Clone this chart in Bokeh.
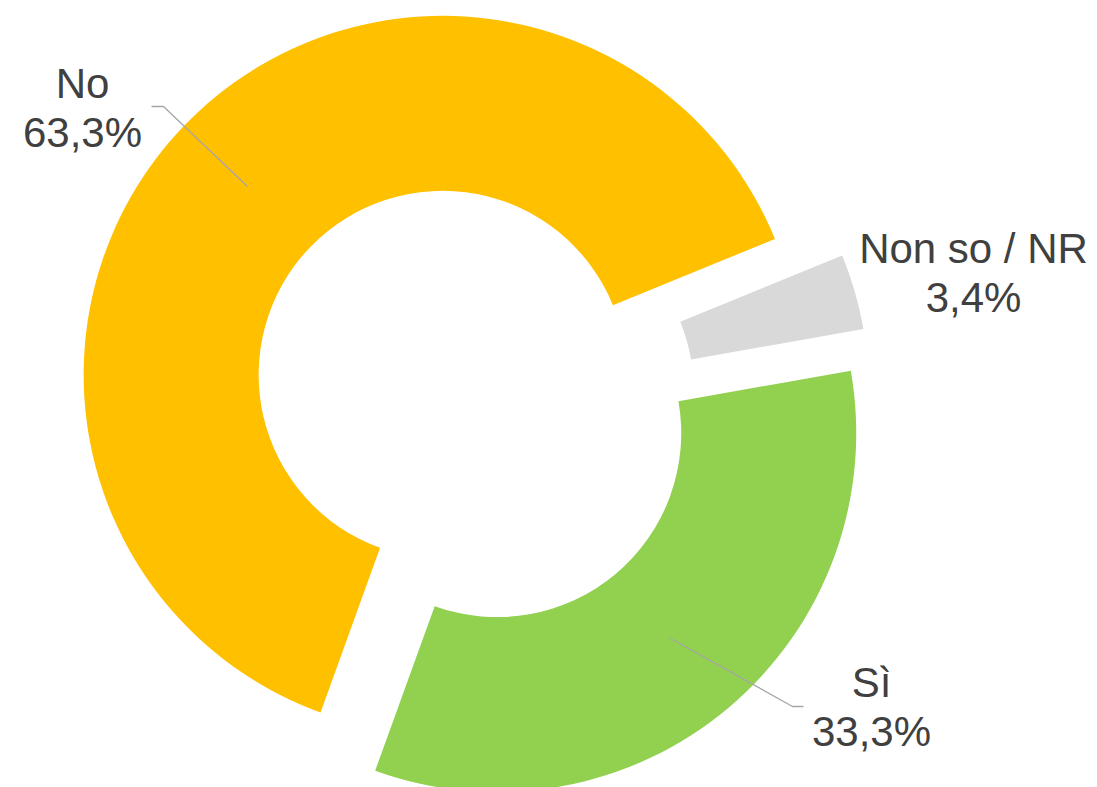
import math
from bokeh.plotting import figure
from bokeh.models import Range1d, ColumnDataSource
from bokeh.core.properties import value
from bokeh.embed import file_html
from bokeh.resources import INLINE

# ---- data ----
categories = ["Sì", "No", "Non so / NR"]
values = [33.3, 63.3, 3.4]
colors = ["#92D050", "#FFC000", "#D9D9D9"]

# ---- layout (reference pixel coordinates, y downwards) ----
first_slice_angle = 80.0       # degrees clockwise from 12 o'clock
cx, cy = 471.0, 402.0          # donut centre
outer_r, inner_r = 359.0, 184.0
explode = 40.0
# label anchors: centre x, baseline of first line
label_pos = {"Sì": (871, 682), "No": (82, 83), "Non so / NR": (973, 248)}
line_gap = 49
# leader lines (label side point, elbow, slice side point)
leaders = {
    "No": [(151, 106), (163, 106), (247, 186)],
    "Sì": [(803, 706), (792, 706), (670, 638)],
}

W, H = 1097, 787
p = figure(width=W, height=H, x_range=Range1d(0, W), y_range=Range1d(-H, 0),
           output_backend="svg", toolbar_location=None, min_border=0,
           x_axis_type=None, y_axis_type=None)
p.outline_line_color = None
p.grid.visible = False
p.background_fill_color = "white"
p.border_fill_color = "white"

total = sum(values)
xs, ys, starts, ends = [], [], [], []
a = 90.0 - first_slice_angle  # math angle where first slice starts
for v in values:
    span = v / total * 360.0
    a_end = a - span  # clockwise
    mid = math.radians((a + a_end) / 2.0)
    xs.append(cx + explode * math.cos(mid))
    ys.append(-(cy - explode * math.sin(mid)))
    starts.append(math.radians(a_end))
    ends.append(math.radians(a))
    a = a_end

src = ColumnDataSource(dict(x=xs, y=ys, s=starts, e=ends, c=colors))
p.annular_wedge(x="x", y="y", inner_radius=inner_r, outer_radius=outer_r,
                start_angle="s", end_angle="e", fill_color="c", line_color=None, source=src)

for name, pts in leaders.items():
    p.line([q[0] for q in pts], [-q[1] for q in pts], line_color="#A6A6A6", line_width=1.3)

tx, ty, tt = [], [], []
for name, v in zip(categories, values):
    lx, ly = label_pos[name]
    pct = f"{v:.1f}".replace(".", ",") + "%"
    tx += [lx, lx]
    ty += [-ly, -(ly + line_gap)]
    tt += [name, pct]
p.text(x=tx, y=ty, text=tt, text_font=value("Liberation Sans"), text_font_size="42px",
       text_color="#404040", text_align="center", text_baseline="alphabetic")

open("out.html", "w").write(file_html(p, INLINE))
